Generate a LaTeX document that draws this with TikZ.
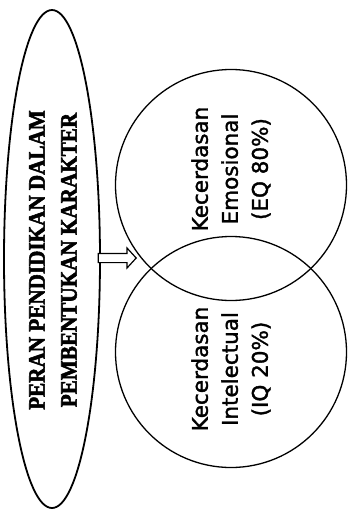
\documentclass[tikz,border=0pt]{standalone}
\usepackage{fontspec}
\setmainfont{Liberation Serif}
\newfontfamily\titlefont[FakeBold=2.2, FakeStretch=0.9]{Liberation Serif Bold}
\newfontfamily\circfont[FakeBold=1.6]{DejaVu Sans}
\usetikzlibrary{shapes.geometric,shapes.arrows}
\tikzset{
  bigell/.style={draw, ellipse, line width=1.8pt, inner sep=0pt, minimum width=96pt, minimum height=498pt},
  venn/.style={draw, circle, line width=1.3pt, inner sep=0pt, minimum size=231pt},
  titletext/.style={rotate=90, align=center, inner sep=0pt, font=\titlefont\fontsize{23.5}{32}\selectfont},
  venntext/.style={rotate=90, align=center, inner sep=0pt, font=\circfont\fontsize{21.5}{30}\selectfont},
  hollowarrow/.style={draw, single arrow, line width=1.2pt, inner sep=4pt, minimum height=38pt,
    minimum width=19pt, single arrow head extend=5.5pt, single arrow tip angle=95, fill=white}
}
\begin{document}
\begin{tikzpicture}[x=1pt, y=1pt]
\path[use as bounding box, fill=white] (0,0) rectangle (350,-517);
\node[bigell] (e) at (52,-259) {};
\node[titletext] (title) at (53,-260) {PERAN PENDIDIKAN DALAM\\PEMBENTUKAN KARAKTER};
\node[venn] (c1) at (231,-185) {};
\node[venn] (c2) at (231,-352) {};
\node[venntext] (t1) at (231,-169) {Kecerdasan\\Emosional\\(EQ 80\%)};
\node[venntext] (t2) at (231,-369) {Kecerdasan\\Intelectual\\(IQ 20\%)};
\coordinate (tip) at (137,-258);
\node[hollowarrow, anchor=tip] (arr) at (tip) {};
\end{tikzpicture}
\end{document}
